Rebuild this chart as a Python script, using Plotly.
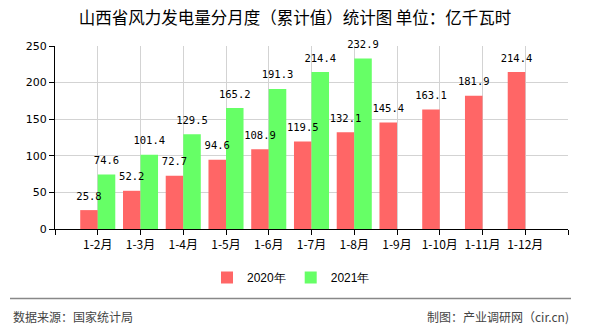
import plotly.graph_objects as go

categories = ["1-2月", "1-3月", "1-4月", "1-5月", "1-6月", "1-7月", "1-8月",
              "1-9月", "1-10月", "1-11月", "1-12月"]
values_2020 = [25.8, 52.2, 72.7, 94.6, 108.9, 119.5, 132.1, 145.4, 163.1, 181.9, 214.4]
values_2021 = [74.6, 101.4, 129.5, 165.2, 191.3, 214.4, 232.9]
y_ticks = [0, 50, 100, 150, 200, 250]

W, H = 590, 330
PL, PR, PT, PB = 55, 568, 46, 229  # plot area in pixels


def px_x(px):
    return (px - PL) / (PR - PL)


def px_y(py):
    return (PB - py) / (PB - PT)


idx_2020 = list(range(len(values_2020)))
idx_2021 = list(range(len(values_2021)))

label_font = dict(family="DejaVu Sans Mono, monospace", size=10.5, color="#000000")
GAP = 0.18

fig = go.Figure()
# coloured bars
fig.add_trace(go.Bar(
    x=idx_2020, y=values_2020, name="2020年", offsetgroup="a",
    marker=dict(color="#ff6666", line=dict(width=0)),
    hoverinfo="y",
))
fig.add_trace(go.Bar(
    x=idx_2021, y=values_2021, name="2021年", offsetgroup="b",
    marker=dict(color="#66ff66", line=dict(width=0)),
    hoverinfo="y",
))
# value labels drawn on top of every bar (grouped like the bars)
for idx, vals, grp in ((idx_2020, values_2020, "a"), (idx_2021, values_2021, "b")):
    fig.add_trace(go.Scatter(
        x=idx, y=vals, offsetgroup=grp, mode="markers+text", showlegend=False,
        marker=dict(size=11, color="rgba(0,0,0,0)", line=dict(width=0)),
        texttemplate="%{y:.1f}", textposition="top center", textfont=label_font,
        cliponaxis=False, hoverinfo="skip",
    ))

tickvals = list(range(-1, len(categories) + 1))
ticktext = [""] + categories + [""]

fig.update_layout(
    width=W, height=H,
    margin=dict(l=PL, r=W - PR, t=PT, b=H - PB, pad=0),
    paper_bgcolor="white", plot_bgcolor="white",
    barmode="group", bargap=GAP, bargroupgap=0,
    scattermode="group", scattergap=GAP,
    title=dict(
        text="山西省风力发电量分月度（累计值）统计图 单位：亿千瓦时",
        x=0.5, xanchor="center", xref="container",
        y=1 - 18 / H, yanchor="middle", yref="container",
        font=dict(family="Noto Sans CJK SC", size=16.5, color="#000000"),
    ),
    font=dict(family="Noto Sans CJK SC", size=12, color="#000000"),
    xaxis=dict(
        range=[-1, len(categories)], tickvals=tickvals, ticktext=ticktext,
        showgrid=True, gridcolor="#d3d3d3", gridwidth=1,
        showline=True, linecolor="#000000", linewidth=1,
        ticks="outside", ticklen=5, tickcolor="#000000",
        zeroline=False,
        tickfont=dict(family="Noto Sans CJK SC", size=12, color="#000000"),
    ),
    yaxis=dict(
        range=[0, 250], tickvals=y_ticks,
        showgrid=True, gridcolor="#d3d3d3", gridwidth=1,
        showline=True, linecolor="#000000", linewidth=1,
        ticks="outside", ticklen=5, tickcolor="#000000",
        zeroline=False,
        tickfont=dict(family="DejaVu Sans", size=11, color="#000000"),
    ),
    showlegend=True,
    legend=dict(
        orientation="h", x=px_x(291), xanchor="center",
        y=px_y(277.5), yanchor="middle",
        font=dict(family="Liberation Sans, Arial", size=12, color="#000000"),
        itemwidth=30, bgcolor="rgba(0,0,0,0)",
    ),
)

fig.add_shape(
    type="line", xref="paper", yref="paper",
    x0=px_x(10), x1=px_x(571), y0=px_y(298.5), y1=px_y(298.5),
    line=dict(color="#888888", width=1.5),
)
fig.add_annotation(
    text="数据来源：国家统计局", xref="paper", yref="paper",
    x=px_x(11), y=px_y(316), xanchor="left", yanchor="middle", showarrow=False,
    font=dict(family="Noto Sans CJK SC", size=12, color="#444444"),
)
fig.add_annotation(
    text="制图：产业调研网（cir.cn)", xref="paper", yref="paper",
    x=px_x(571), y=px_y(316), xanchor="right", yanchor="middle", showarrow=False,
    font=dict(family="Noto Sans CJK SC", size=12, color="#444444"),
)

fig.write_html("out.html")
